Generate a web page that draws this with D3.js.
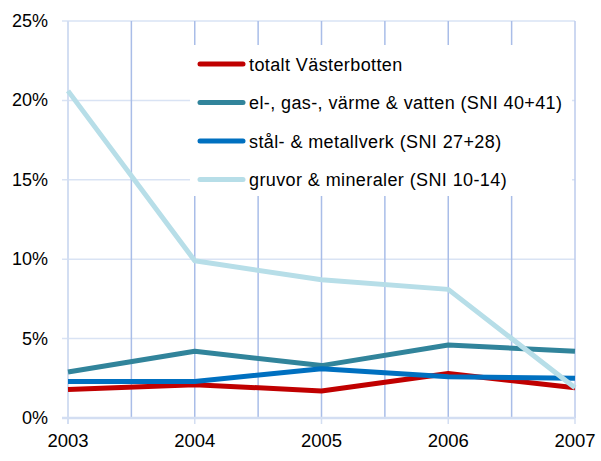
<!DOCTYPE html>
<html>
<head>
<meta charset="utf-8">
<script src="https://cdn.jsdelivr.net/npm/d3@7"></script>
<style>
  body { margin: 0; background: #fff; }
  svg { display: block; font-family: "Liberation Sans", Arial, sans-serif; }
</style>
</head>
<body>
<script>
const years = [2003, 2004, 2005, 2006, 2007];
const seriesNames = [
  "totalt Västerbotten",
  "el-, gas-, värme & vatten (SNI 40+41)",
  "stål- & metallverk (SNI 27+28)",
  "gruvor & mineraler (SNI 10-14)"
];
const totalt = [1.8, 2.1, 1.7, 2.8, 1.9];
const elGas = [2.9, 4.2, 3.3, 4.6, 4.2];
const stal = [2.3, 2.3, 3.1, 2.6, 2.5];
const gruvor = [20.6, 9.9, 8.7, 8.1, 1.9];
const colors = ["#c00000", "#31849b", "#0070c0", "#b7dee8"];
const yTicks = [0, 5, 10, 15, 20, 25];

const width = 601, height = 461;
const x = d3.scaleLinear().domain([2003, 2007]).range([68, 575]);
const y = d3.scaleLinear().domain([0, 25]).range([418, 21]);

const svg = d3.select("body").append("svg")
    .attr("width", width)
    .attr("height", height);

// horizontal gridlines
svg.append("g")
  .selectAll("line")
  .data(yTicks.filter(d => d > 0))
  .join("line")
    .attr("x1", x(2003) - 6).attr("x2", x(2007))
    .attr("y1", d => y(d)).attr("y2", d => y(d))
    .attr("stroke", "#d9e3f4")
    .attr("stroke-width", 1.5);

// vertical gridlines every half year
const halfYears = d3.range(2003.5, 2007.01, 0.5);
svg.append("g")
  .selectAll("line")
  .data(halfYears)
  .join("line")
    .attr("x1", d => x(d)).attr("x2", d => x(d))
    .attr("y1", y(25)).attr("y2", y(0))
    .attr("stroke", d => d === 2007 ? "#bccbec" : "#a9bde8")
    .attr("stroke-width", 1.5);

// left axis line
svg.append("line")
  .attr("x1", x(2003)).attr("x2", x(2003))
  .attr("y1", y(25)).attr("y2", y(0) + 6)
  .attr("stroke", "#d3def2")
  .attr("stroke-width", 2);

// bottom axis line + ticks
svg.append("line")
  .attr("x1", x(2003) - 6).attr("x2", x(2007))
  .attr("y1", y(0)).attr("y2", y(0))
  .attr("stroke", "#d3def2")
  .attr("stroke-width", 2.5);
svg.append("g")
  .selectAll("line")
  .data(years)
  .join("line")
    .attr("x1", d => x(d)).attr("x2", d => x(d))
    .attr("y1", y(0)).attr("y2", y(0) + 6)
    .attr("stroke", "#d3def2")
    .attr("stroke-width", 1.5);

// y tick labels
svg.append("g")
  .selectAll("text")
  .data(yTicks)
  .join("text")
    .attr("x", 48)
    .attr("y", d => y(d) + 6)
    .attr("text-anchor", "end")
    .attr("font-size", 18)
    .attr("fill", "#000")
    .text(d => d + "%");

// x tick labels
svg.append("g")
  .selectAll("text")
  .data(years)
  .join("text")
    .attr("x", d => x(d))
    .attr("y", 447)
    .attr("text-anchor", "middle")
    .attr("font-size", 18.5)
    .attr("fill", "#000")
    .text(d => d);

// legend background (covers gridlines)
const legend = svg.append("g");
legend.append("rect")
  .attr("x", 190).attr("y", 45)
  .attr("width", 382).attr("height", 151)
  .attr("fill", "#fff");

// series lines
const allSeries = [totalt, elGas, stal, gruvor];
const line = d3.line()
  .x((d, i) => x(years[i]))
  .y(d => y(d));
svg.append("g")
  .selectAll("path")
  .data(allSeries)
  .join("path")
    .attr("d", d => line(d))
    .attr("fill", "none")
    .attr("stroke", (d, i) => colors[i])
    .attr("stroke-width", 5)
    .attr("stroke-linejoin", "round");

// legend entries
const item = legend.selectAll("g.item")
  .data(seriesNames)
  .join("g")
    .attr("class", "item")
    .attr("transform", (d, i) => `translate(200,${64 + i * 38.5})`);
item.append("line")
  .attr("x1", 0).attr("x2", 43)
  .attr("stroke", (d, i) => colors[i])
  .attr("stroke-width", 5)
  .attr("stroke-linecap", "round");
item.append("text")
  .attr("x", 49)
  .attr("y", 6.5)
  .attr("font-size", 18)
  .attr("letter-spacing", 0.4)
  .attr("fill", "#000")
  .text(d => d);
</script>
</body>
</html>
